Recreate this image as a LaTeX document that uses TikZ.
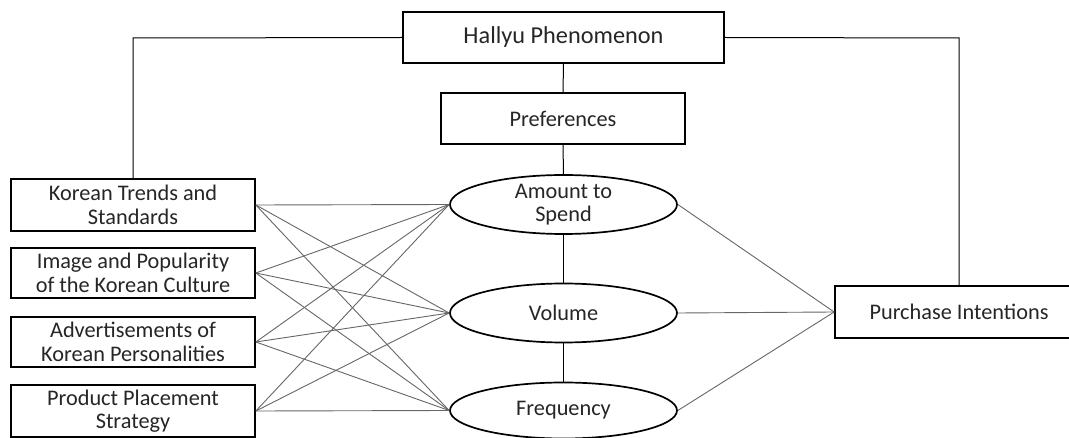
\documentclass[tikz,border=0pt]{standalone}
\usepackage{fontspec}
\setmainfont{Carlito}
\usetikzlibrary{shapes.geometric}
\begin{document}
\begin{tikzpicture}[x=1pt,y=-1pt,
  box/.style={draw=black,line width=1.7pt,fill=white,inner sep=0pt,align=center,
    font=\fontsize{22.3}{23.5}\selectfont,text=black!85},
  oval/.style={ellipse,draw=black,line width=1.7pt,fill=white,inner sep=0pt,align=center,
    minimum width=227pt,minimum height=59pt,font=\fontsize{22.3}{23.5}\selectfont,text=black!85},
  link/.style={line width=1pt,draw=black},
  glink/.style={line width=0.9pt,draw=black!60}]
\useasboundingbox (0,0) rectangle (1069,438);
\clip (0,0) rectangle (1069,438);
% nodes
\node[box,minimum width=321pt,minimum height=51pt,font=\fontsize{24.3}{26}\selectfont] (hal) at (563.5,37.5) {Hallyu Phenomenon};
\node[box,minimum width=244pt,minimum height=51pt] (pref) at (563,118.5) {Preferences};
\node[box,minimum width=244pt,minimum height=52pt] (kt) at (133,205) {Korean Trends and\\Standards};
\node[box,minimum width=244pt,minimum height=50pt] (ip) at (133,273) {Image and Popularity\\of the Korean Culture};
\node[box,minimum width=244pt,minimum height=50pt] (ad) at (133,342) {Advertisements of\\Korean Personalities};
\node[box,minimum width=244pt,minimum height=52pt] (pp) at (133,411) {Product Placement\\Strategy};
\node[oval] (am) at (563.5,204.5) {Amount to\\Spend};
\node[oval] (vo) at (563.5,313) {Volume};
\node[oval,minimum height=56pt] (fr) at (563.5,410.5) {Frequency};
\node[box,minimum width=248pt,minimum height=52pt] (pi) at (959,312) {Purchase Intentions};
\coordinate (c1) at (133,38);
\coordinate (c2) at (959,38);
% connectors
\draw[link] (hal.west) -- (c1) -- (kt.north);
\draw[link] (hal.east) -- (c2) -- (pi.north);
\draw[link] (hal.south) -- (pref.north);
\draw[link] (pref.south) -- (am.north);
\draw[link] (am.south) -- (vo.north);
\draw[link] (vo.south) -- (fr.north);
\foreach \s in {kt,ip,ad,pp}{
  \foreach \t in {am,vo,fr}{
    \draw[glink] (\s.east) -- (\t.west);
  }
}
\foreach \t in {am,vo,fr}{
  \draw[glink] (\t.east) -- (pi.west);
}
\end{tikzpicture}
\end{document}
